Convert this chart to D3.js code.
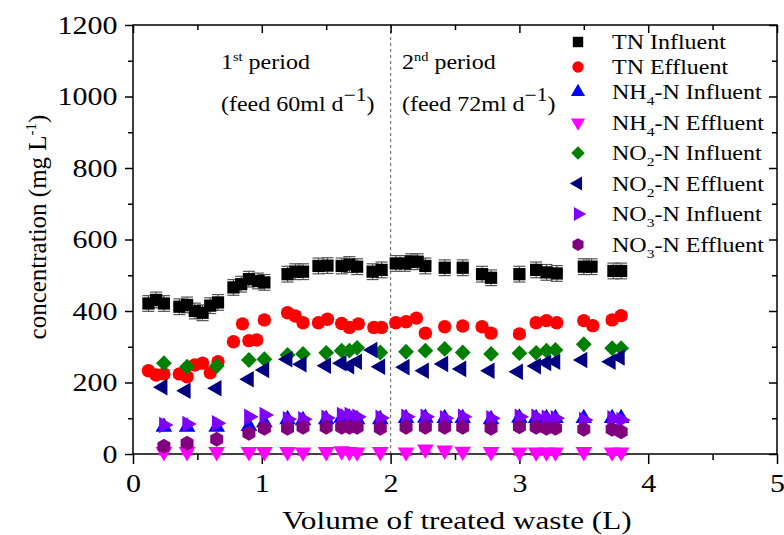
<!DOCTYPE html>
<html>
<head>
<meta charset="utf-8">
<script src="https://d3js.org/d3.v7.min.js"></script>
<style>
  body { margin: 0; background: #fff; }
  text { font-family: "Liberation Serif", "Times New Roman", serif; fill: #000; }
</style>
</head>
<body>
<div id="chart"></div>
<script>
// values: volume (L) and concentration (mg/L)
var xTNin = [0.12,0.18,0.24,0.36,0.42,0.48,0.54,0.60,0.66,0.78,0.84,0.90,0.97,1.02,1.20,1.26,1.32,1.44,1.51,1.62,1.68,1.74,1.86,1.93,
             2.04,2.11,2.16,2.21,2.27,2.42,2.56,2.71,2.78,3.00,3.13,3.21,3.29,3.50,3.56,3.73,3.79];
var tnInfluent = [421,431,421,412,417,400,395,415,424,466,475,489,484,480,503,510,510,526,527,526,530,524,510,515,
                  533,533,538,538,526,521,521,503,493,503,515,508,505,524,524,512,512];

var xTNeff = [0.12,0.18,0.24,0.36,0.42,0.48,0.54,0.60,0.66,0.78,0.85,0.90,0.96,1.02,1.20,1.26,1.32,1.44,1.51,1.62,1.68,1.75,1.87,1.93,
              2.04,2.12,2.20,2.27,2.42,2.56,2.71,2.78,3.00,3.13,3.21,3.29,3.50,3.57,3.72,3.79];
var tnEffluent = [233,221,224,224,216,249,254,227,258,314,364,317,319,375,395,386,367,367,377,365,354,364,354,354,
                  367,370,380,338,356,358,356,338,336,367,373,367,373,359,375,387];

var xN = [0.24,0.42,0.65,0.90,1.02,1.20,1.32,1.50,1.62,1.68,1.74,1.92,
          2.12,2.27,2.42,2.56,2.78,3.00,3.13,3.21,3.28,3.50,3.72,3.79];
var nh4Influent = [76,76,76,78,88,97,94,97,101,101,97,97, 100,101,100,100,97,101,100,100,100,100,100,100];
var nh4Effluent = [6,6,6,6,6,6,5,6,8,6,5,6, 5,13,10,7,6,5,5,5,5,6,5,5];
var no2Influent = [254,244,246,263,265,277,280,283,289,289,297,284, 286,289,294,284,280,282,283,289,291,307,296,296];
var no3Influent = [81,84,86,104,109,97,97,101,109,109,104,101, 104,104,100,104,100,104,104,101,100,95,100,95];
var no3Effluent = [22,30,41,58,72,72,75,75,75,75,75,72, 75,75,75,75,72,76,75,72,72,69,69,62];

var xNO2eff = [0.23,0.41,0.65,0.90,1.02,1.20,1.31,1.50,1.62,1.68,1.74,1.86,1.92,
               2.11,2.26,2.41,2.55,2.77,2.99,3.13,3.21,3.28,3.49,3.71,3.78];
var no2Effluent = [187,177,184,209,235,265,251,247,254,246,258,291,244, 243,233,252,238,233,230,246,255,258,263,258,270];

var xTicks = [0,1,2,3,4,5];
var xMinor = [0.5,1.5,2.5,3.5,4.5];
var yTicks = [0,200,400,600,800,1000,1200];
var yMinor = [100,300,500,700,900,1100];

var series = [
  {label: [["TN Influent"]], xs: xTNin, ys: tnInfluent, color: "#000000", shape: "square", err: 22, errColor: "#555"},
  {label: [["TN Effluent"]], xs: xTNeff, ys: tnEffluent, color: "#ff0000", shape: "circle", err: 11, errColor: "#f47a7a"},
  {label: [["NH"],["4","sub"],["-N Influent"]], xs: xN, ys: nh4Influent, color: "#0000ff", shape: "up", err: 0},
  {label: [["NH"],["4","sub"],["-N Effluent"]], xs: xN, ys: nh4Effluent, color: "#ff00ff", shape: "down", err: 8, errColor: "#ff00ff"},
  {label: [["NO"],["2","sub"],["-N Influent"]], xs: xN, ys: no2Influent, color: "#008000", shape: "diamond", err: 0},
  {label: [["NO"],["2","sub"],["-N Effluent"]], xs: xNO2eff, ys: no2Effluent, color: "#000080", shape: "left", err: 0},
  {label: [["NO"],["3","sub"],["-N Influent"]], xs: xN, ys: no3Influent, color: "#8000ff", shape: "right", err: 0},
  {label: [["NO"],["3","sub"],["-N Effluent"]], xs: xN, ys: no3Effluent, color: "#800080", shape: "hex", err: 0}
];

var W = 784, H = 535;
var svg = d3.select("#chart").append("svg").attr("width", W).attr("height", H);

var x = d3.scaleLinear().domain([0, 5]).range([133, 777]);
var y = d3.scaleLinear().domain([0, 1200]).range([454, 25]);

// marker shapes
function shapePath(shape, k) {
  k = k || 1;
  if (shape === "square") return d3.symbol(d3.symbolSquare, 150 * k * k)();
  if (shape === "circle") return d3.symbol(d3.symbolCircle, 140 * k * k)();
  if (shape === "diamond") return d3.symbol(d3.symbolSquare, 125 * k * k)();
  if (shape === "hex") {
    var r = 7.5 * k;
    var pts = d3.range(6).map(function(i) {
      var a = Math.PI / 6 + i * Math.PI / 3;
      return [r * Math.cos(a), r * Math.sin(a)];
    });
    return "M" + pts.join("L") + "Z";
  }
  return d3.symbol(d3.symbolTriangle, 120 * k * k)();
}
var rot = {up: 0, down: 180, left: -90, right: 90, diamond: 45};

// dashed divider at 2 L
svg.append("line")
  .attr("x1", x(2)).attr("x2", x(2))
  .attr("y1", y(1200)).attr("y2", y(0))
  .attr("stroke", "#777").attr("stroke-width", 1.2)
  .attr("stroke-dasharray", "3,3");

// axes
function styleAxis(g) {
  g.select(".domain").remove();
  g.selectAll("line").attr("stroke", "#000").attr("stroke-width", 1.5);
  g.selectAll("text").style("font-size", "25px").attr("transform", "scale(1.2,1)");
}
svg.append("g").attr("transform", "translate(0,454)")
  .call(d3.axisBottom(x).tickValues(xTicks).tickSize(10).tickPadding(10).tickFormat(d3.format("d")))
  .call(styleAxis);
svg.append("g").attr("transform", "translate(0,454)")
  .call(d3.axisBottom(x).tickValues(xMinor).tickSize(6).tickFormat(""))
  .call(styleAxis);
svg.append("g").attr("transform", "translate(133,0)")
  .call(d3.axisLeft(y).tickValues(yTicks).tickSize(8).tickPadding(5).tickFormat(d3.format("d")))
  .call(styleAxis);
svg.append("g").attr("transform", "translate(133,0)")
  .call(d3.axisLeft(y).tickValues(yMinor).tickSize(5).tickFormat(""))
  .call(styleAxis);
svg.append("g").attr("transform", "translate(0,25)")
  .call(d3.axisTop(x).tickValues(xTicks).tickSize(-8).tickFormat(""))
  .call(styleAxis);
svg.append("g").attr("transform", "translate(0,25)")
  .call(d3.axisTop(x).tickValues(xMinor).tickSize(-5).tickFormat(""))
  .call(styleAxis);
svg.append("g").attr("transform", "translate(777,0)")
  .call(d3.axisRight(y).tickValues(yTicks).tickSize(-8).tickFormat(""))
  .call(styleAxis);
svg.append("g").attr("transform", "translate(777,0)")
  .call(d3.axisRight(y).tickValues(yMinor).tickSize(-5).tickFormat(""))
  .call(styleAxis);

svg.append("rect")
  .attr("x", 133).attr("y", 25).attr("width", 644).attr("height", 429)
  .attr("fill", "none").attr("stroke", "#000").attr("stroke-width", 1.5);

// data
series.forEach(function(s) {
  var pts = s.xs.map(function(v, i) { return {x: v, y: s.ys[i]}; });
  var g = svg.append("g");
  if (s.err > 0) {
    var eb = g.selectAll(".eb").data(pts).enter().append("g")
      .attr("stroke", s.errColor).attr("stroke-width", 1.2);
    eb.append("line")
      .attr("x1", function(d) { return x(d.x); }).attr("x2", function(d) { return x(d.x); })
      .attr("y1", function(d) { return y(d.y + s.err); }).attr("y2", function(d) { return y(d.y - s.err); });
    eb.append("line")
      .attr("x1", function(d) { return x(d.x) - 6; }).attr("x2", function(d) { return x(d.x) + 6; })
      .attr("y1", function(d) { return y(d.y + s.err); }).attr("y2", function(d) { return y(d.y + s.err); });
    eb.append("line")
      .attr("x1", function(d) { return x(d.x) - 6; }).attr("x2", function(d) { return x(d.x) + 6; })
      .attr("y1", function(d) { return y(d.y - s.err); }).attr("y2", function(d) { return y(d.y - s.err); });
  }
  g.selectAll("path.m").data(pts).enter().append("path")
    .attr("class", "m")
    .attr("d", shapePath(s.shape))
    .attr("transform", function(d) {
      return "translate(" + x(d.x) + "," + y(d.y) + ") rotate(" + (rot[s.shape] || 0) + ")";
    })
    .attr("fill", s.color);
});

// legend
var legY = 42;
series.forEach(function(s, i) {
  if (i > 0) legY += (series[i - 1].label.length > 1 ? 30.5 : 25);
  svg.append("path")
    .attr("d", shapePath(s.shape, 0.85))
    .attr("transform", "translate(578," + legY + ") rotate(" + (rot[s.shape] || 0) + ")")
    .attr("fill", s.color);
  var t = svg.append("text")
    .attr("transform", "translate(612," + (legY + 7) + ") scale(1.2,1)")
    .style("font-size", "20px");
  s.label.forEach(function(p) {
    if (p[1] === "sub") {
      t.append("tspan").attr("dy", 6).style("font-size", "13px").text(p[0]);
    } else {
      var sp = t.append("tspan").text(p[0]);
      if (t.selectAll("tspan").size() > 1) sp.attr("dy", -6);
    }
  });
});

// period annotations
function periodLabel(px, num, sup, feed) {
  var t1 = svg.append("text")
    .attr("transform", "translate(" + px + ",69) scale(1.2,1)")
    .style("font-size", "20px");
  t1.append("tspan").text(num);
  t1.append("tspan").attr("dy", -8).style("font-size", "12px").text(sup);
  t1.append("tspan").attr("dy", 8).text(" period");
  var t2 = svg.append("text")
    .attr("transform", "translate(" + px + ",111) scale(1.2,1)")
    .style("font-size", "20px");
  t2.append("tspan").text("(feed " + feed + "ml d");
  t2.append("tspan").attr("dy", -10).style("font-size", "18px").text("\u22121");
  t2.append("tspan").attr("dy", 10).text(")");
}
periodLabel(221, "1", "st", "60");
periodLabel(402, "2", "nd", "72");

// axis titles
svg.append("text")
  .attr("transform", "translate(457,529) scale(1.2,1)")
  .attr("text-anchor", "middle")
  .style("font-size", "26px")
  .text("Volume of treated waste (L)");

var yt = svg.append("text")
  .attr("transform", "translate(46,227) rotate(-90)")
  .attr("text-anchor", "middle")
  .style("font-size", "25px");
yt.append("tspan").text("concentration (mg L");
yt.append("tspan").attr("dy", -10).style("font-size", "15px").text("-1");
yt.append("tspan").attr("dy", 10).text(")");
</script>
</body>
</html>
